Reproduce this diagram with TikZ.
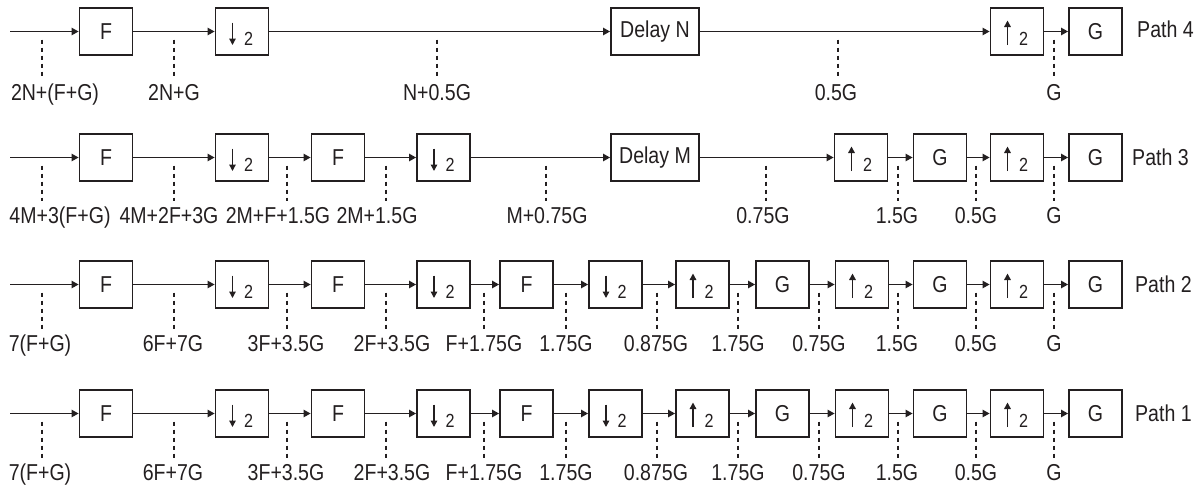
\documentclass[tikz,border=0pt]{standalone}
\usepackage{fontspec}
\setmainfont{Liberation Sans}[FakeStretch=0.85]
\usetikzlibrary{arrows.meta,calc}
\definecolor{ink}{HTML}{231F20}
\newcommand\rbdown[3]{%
  \node[box] (#1) at (#2,#3) {};
  \draw[rate] ($(#1.center)+(-9.5,-9)$) -- ($(#1.center)+(-9.5,13.5)$);
  \node[two] at ($(#1.center)+(6.5,13.5)$) {2};}
\newcommand\rbup[3]{%
  \node[box] (#1) at (#2,#3) {};
  \draw[rate] ($(#1.center)+(-9.5,13.5)$) -- ($(#1.center)+(-9.5,-11)$);
  \node[two] at ($(#1.center)+(6.5,13.5)$) {2};}
\begin{document}
\begin{tikzpicture}[x=1pt,y=-1pt,
  every node/.style={font=\fontsize{23}{23}\selectfont, text=ink},
  box/.style={draw=ink, line width=1.9pt, minimum width=53pt, minimum height=47pt, inner sep=0pt},
  wide/.style={box, minimum width=88pt},
  conn/.style={draw=ink, line width=1.1pt, -{Triangle[length=7pt,width=7.5pt]}},
  rate/.style={draw=ink, line width=1.4pt, -{Triangle[length=6.5pt,width=6.5pt]}},
  two/.style={anchor=base, inner sep=0pt, font=\fontsize{19}{19}\selectfont},
  marker/.style={draw=ink, line width=1.5pt, dash pattern=on 4pt off 4pt},
  lab/.style={anchor=base, inner sep=0pt},
  pathlab/.style={anchor=west, inner sep=0pt}]
\useasboundingbox (0,0) rectangle (1203,485);

% ---------------- Path 4 ----------------
\coordinate (s4) at (10,31.5);
\node[box] (r4a) at (106,31.5) {F};
\rbdown{r4b}{242}{31.5}
\node[wide] (r4c) at (655,31.5) {Delay N};
\rbup{r4d}{1017}{31.5}
\node[box] (r4e) at (1095.5,31.5) {G};
\node[pathlab] (p4) at (1137,29) {Path 4};
\draw[conn] (s4) -- (r4a.west);
\draw[conn] (r4a.east) -- (r4b.west);
\draw[conn] (r4b.east) -- (r4c.west);
\draw[conn] (r4c.east) -- (r4d.west);
\draw[conn] (r4d.east) -- (r4e.west);
\foreach \dx/\lx/\t in {42/55/2N+(F+G), 174/174/2N+G, 437/437/N+0.5G, 838/836/0.5G, 1054/1054/G}{
  \draw[marker] (\dx,39.5) -- (\dx,76);
  \node[lab] at (\lx,100) {\t};
}

% ---------------- Path 3 ----------------
\coordinate (s3) at (10,157.5);
\node[box] (r3a) at (106,157.5) {F};
\rbdown{r3b}{242}{157.5}
\node[box] (r3c) at (338,157.5) {F};
\rbdown{r3d}{443.5}{157.5}
\node[wide] (r3e) at (655,157.5) {Delay M};
\rbup{r3f}{861}{157.5}
\node[box] (r3g) at (940,157.5) {G};
\rbup{r3h}{1017}{157.5}
\node[box] (r3i) at (1095.5,157.5) {G};
\node[pathlab] (p3) at (1132,157.5) {Path 3};
\draw[conn] (s3) -- (r3a.west);
\draw[conn] (r3a.east) -- (r3b.west);
\draw[conn] (r3b.east) -- (r3c.west);
\draw[conn] (r3c.east) -- (r3d.west);
\draw[conn] (r3d.east) -- (r3e.west);
\draw[conn] (r3e.east) -- (r3f.west);
\draw[conn] (r3f.east) -- (r3g.west);
\draw[conn] (r3g.east) -- (r3h.west);
\draw[conn] (r3h.east) -- (r3i.west);
\foreach \dx/\lx/\t in {42/60/4M+3(F+G), 174/169/4M+2F+3G, 287/278/2M+F+1.5G, 386/377/2M+1.5G, 546/547/M+0.75G, 766/763/0.75G, 898/897/1.5G, 976/976/0.5G, 1054/1054/G}{
  \draw[marker] (\dx,165.5) -- (\dx,201);
  \node[lab] at (\lx,223) {\t};
}

% ---------------- Paths 2 and 1 ----------------
\foreach \yy/\r/\pn in {284.5/2/Path 2, 413.5/1/Path 1}{
  \coordinate (s\r) at (10,\yy);
  \node[box] (r\r a) at (106,\yy) {F};
  \rbdown{r\r b}{242}{\yy}
  \node[box] (r\r c) at (338,\yy) {F};
  \rbdown{r\r d}{443.5}{\yy}
  \node[box] (r\r e) at (526.5,\yy) {F};
  \rbdown{r\r f}{615.5}{\yy}
  \rbup{r\r g}{702.5}{\yy}
  \node[box] (r\r h) at (782.5,\yy) {G};
  \rbup{r\r i}{862}{\yy}
  \node[box] (r\r j) at (940,\yy) {G};
  \rbup{r\r k}{1017}{\yy}
  \node[box] (r\r l) at (1095.5,\yy) {G};
  \node[pathlab] (p\r) at (1135,\yy) {\pn};
  \draw[conn] (s\r) -- (r\r a.west);
  \draw[conn] (r\r a.east) -- (r\r b.west);
  \draw[conn] (r\r b.east) -- (r\r c.west);
  \draw[conn] (r\r c.east) -- (r\r d.west);
  \draw[conn] (r\r d.east) -- (r\r e.west);
  \draw[conn] (r\r e.east) -- (r\r f.west);
  \draw[conn] (r\r f.east) -- (r\r g.west);
  \draw[conn] (r\r g.east) -- (r\r h.west);
  \draw[conn] (r\r h.east) -- (r\r i.west);
  \draw[conn] (r\r i.east) -- (r\r j.west);
  \draw[conn] (r\r j.east) -- (r\r k.west);
  \draw[conn] (r\r k.east) -- (r\r l.west);
  \foreach \dx/\lx/\t in {42/40/7(F+G), 174/173/6F+7G, 287/286/3F+3.5G, 386/392/2F+3.5G, 484/484/F+1.75G, 566/566/1.75G, 657/656/0.875G, 738/738/1.75G, 819/819/0.75G, 898/897/1.5G, 976/976/0.5G, 1054/1054/G}{
    \draw[marker] (\dx,\yy+8) -- (\dx,\yy+44);
    \node[lab] at (\lx,\yy+67) {\t};
  }
}
\end{tikzpicture}
\end{document}
